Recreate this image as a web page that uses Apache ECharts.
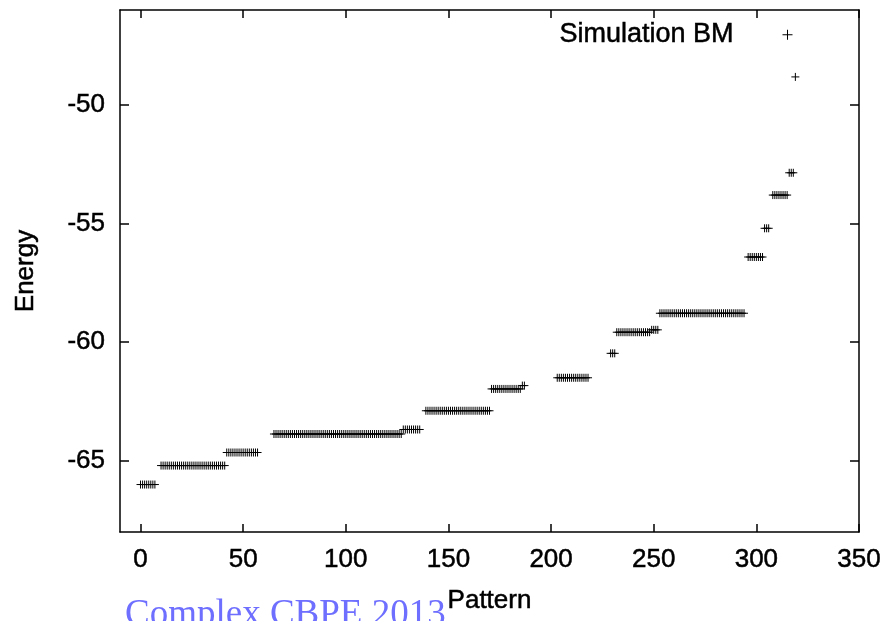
<!DOCTYPE html>
<html>
<head>
<meta charset="utf-8">
<script src="https://cdn.jsdelivr.net/npm/echarts@6/dist/echarts.min.js"></script>
<style>
html,body{margin:0;padding:0;background:#fff;}
#chart{width:890px;height:621px;}
</style>
</head>
<body>
<div id="chart"></div>
<script>
// Energy of each pattern index 0..319 (null = no point drawn)
var energies = [
  -66,-66,-66,-66,-66,-66,-66,-66,null,null,
  -65.2,-65.2,-65.2,-65.2,-65.2,-65.2,-65.2,-65.2,-65.2,-65.2,
  -65.2,-65.2,-65.2,-65.2,-65.2,-65.2,-65.2,-65.2,-65.2,-65.2,
  -65.2,-65.2,-65.2,-65.2,-65.2,-65.2,-65.2,-65.2,-65.2,-65.2,
  -65.2,-65.2,-64.65,-64.65,-64.65,-64.65,-64.65,-64.65,-64.65,-64.65,
  -64.65,-64.65,-64.65,-64.65,-64.65,-64.65,-64.65,-64.65,null,null,
  null,null,null,null,null,-63.87,-63.87,-63.87,-63.87,-63.87,
  -63.87,-63.87,-63.87,-63.87,-63.87,-63.87,-63.87,-63.87,-63.87,-63.87,
  -63.87,-63.87,-63.87,-63.87,-63.87,-63.87,-63.87,-63.87,-63.87,-63.87,
  -63.87,-63.87,-63.87,-63.87,-63.87,-63.87,-63.87,-63.87,-63.87,-63.87,
  -63.87,-63.87,-63.87,-63.87,-63.87,-63.87,-63.87,-63.87,-63.87,-63.87,
  -63.87,-63.87,-63.87,-63.87,-63.87,-63.87,-63.87,-63.87,-63.87,-63.87,
  -63.87,-63.87,-63.87,-63.87,-63.87,-63.87,-63.87,-63.87,-63.68,-63.68,
  -63.68,-63.68,-63.68,-63.68,-63.68,-63.68,-63.68,null,null,-62.89,
  -62.89,-62.89,-62.89,-62.89,-62.89,-62.89,-62.89,-62.89,-62.89,-62.89,
  -62.89,-62.89,-62.89,-62.89,-62.89,-62.89,-62.89,-62.89,-62.89,-62.89,
  -62.89,-62.89,-62.89,-62.89,-62.89,-62.89,-62.89,-62.89,-62.89,-62.89,
  -62.89,-61.97,-61.97,-61.97,-61.97,-61.97,-61.97,-61.97,-61.97,-61.97,
  -61.97,-61.97,-61.97,-61.97,-61.97,-61.97,-61.83,-61.83,null,null,
  null,null,null,null,null,null,null,null,null,null,
  null,null,null,-61.5,-61.5,-61.5,-61.5,-61.5,-61.5,-61.5,
  -61.5,-61.5,-61.5,-61.5,-61.5,-61.5,-61.5,-61.5,-61.5,null,
  null,null,null,null,null,null,null,null,null,-60.47,
  -60.47,-60.47,-59.58,-59.58,-59.58,-59.58,-59.58,-59.58,-59.58,-59.58,
  -59.58,-59.58,-59.58,-59.58,-59.58,-59.58,-59.58,-59.58,-59.58,-59.48,
  -59.48,-59.48,-59.48,-58.78,-58.78,-58.78,-58.78,-58.78,-58.78,-58.78,
  -58.78,-58.78,-58.78,-58.78,-58.78,-58.78,-58.78,-58.78,-58.78,-58.78,
  -58.78,-58.78,-58.78,-58.78,-58.78,-58.78,-58.78,-58.78,-58.78,-58.78,
  -58.78,-58.78,-58.78,-58.78,-58.78,-58.78,-58.78,-58.78,-58.78,-58.78,
  -58.78,-58.78,-58.78,-58.78,-58.78,null,-56.41,-56.41,-56.41,-56.41,
  -56.41,-56.41,-56.41,-56.41,-55.2,-55.2,-55.2,null,-53.8,-53.8,
  -53.8,-53.8,-53.8,-53.8,-53.8,-53.8,-52.86,-52.86,-52.86,-48.82
];
var xTicks = [0, 50, 100, 150, 200, 250, 300, 350];
var yTicks = [-65, -60, -55, -50];
var seriesName = 'Simulation BM';
var xName = 'Pattern';
var yName = 'Energy';
var watermark = 'Complex CBPE 2013';

var points = [];
energies.forEach(function (e, i) { if (e !== null) points.push([i, e]); });

var PLUS = 'path://M0,5L10,5M5,0L5,10';
var FONT = 'Liberation Sans';
var txt = {color: '#000', fontFamily: FONT, fontSize: 26, textBorderColor: '#000', textBorderWidth: 0.5};
var line = {show: true, onZero: false, lineStyle: {color: '#000', width: 1.5}};
function tick(vals, len) {
  return {show: true, inside: true, length: len, customValues: vals, lineStyle: {color: '#000', width: 1.5}};
}

var chart = echarts.init(document.getElementById('chart'), null, {renderer: 'canvas'});
chart.setOption({
  animation: false,
  backgroundColor: '#fff',
  grid: {left: 120, right: 31, top: 10, bottom: 89, containLabel: false},
  legend: {
    data: [seriesName], right: 95, top: 21, padding: 0,
    align: 'right', itemWidth: 10, itemHeight: 10, icon: PLUS,
    itemStyle: {color: 'none', borderColor: '#000', borderWidth: 1},
    textStyle: Object.assign({padding: [0, 44, 0, 0]}, txt, {fontSize: 27})
  },
  xAxis: [{
    type: 'value', min: -10, max: 350, position: 'bottom',
    name: xName, nameLocation: 'middle', nameGap: 56,
    nameTextStyle: txt,
    axisLine: line,
    axisTick: tick(xTicks, 8),
    axisLabel: Object.assign({margin: 15, customValues: xTicks}, txt),
    splitLine: {show: false}
  }, {
    type: 'value', min: -10, max: 350, position: 'top',
    axisLine: line,
    axisTick: tick(xTicks, 8),
    axisLabel: {show: false},
    splitLine: {show: false}
  }],
  yAxis: [{
    type: 'value', min: -68, max: -46, position: 'left',
    name: yName, nameLocation: 'middle', nameGap: 81, nameRotate: 90,
    nameTextStyle: txt,
    axisLine: line,
    axisTick: tick(yTicks, 9),
    axisLabel: Object.assign({margin: 15, customValues: yTicks}, txt),
    splitLine: {show: false}
  }, {
    type: 'value', min: -68, max: -46, position: 'right',
    axisLine: line,
    axisTick: tick(yTicks, 9),
    axisLabel: {show: false},
    splitLine: {show: false}
  }],
  series: [{
    name: seriesName, type: 'scatter', xAxisIndex: 0, yAxisIndex: 0,
    symbol: PLUS, symbolSize: 8,
    itemStyle: {color: 'none', borderColor: '#000', borderWidth: 1, opacity: 1},
    emphasis: {disabled: true},
    data: points
  }],
  graphic: [{
    type: 'text', left: 125, top: 597, silent: true,
    style: {text: watermark, fill: '#6e6eff', font: '37px "Liberation Serif"'}
  }]
});
</script>
</body>
</html>
